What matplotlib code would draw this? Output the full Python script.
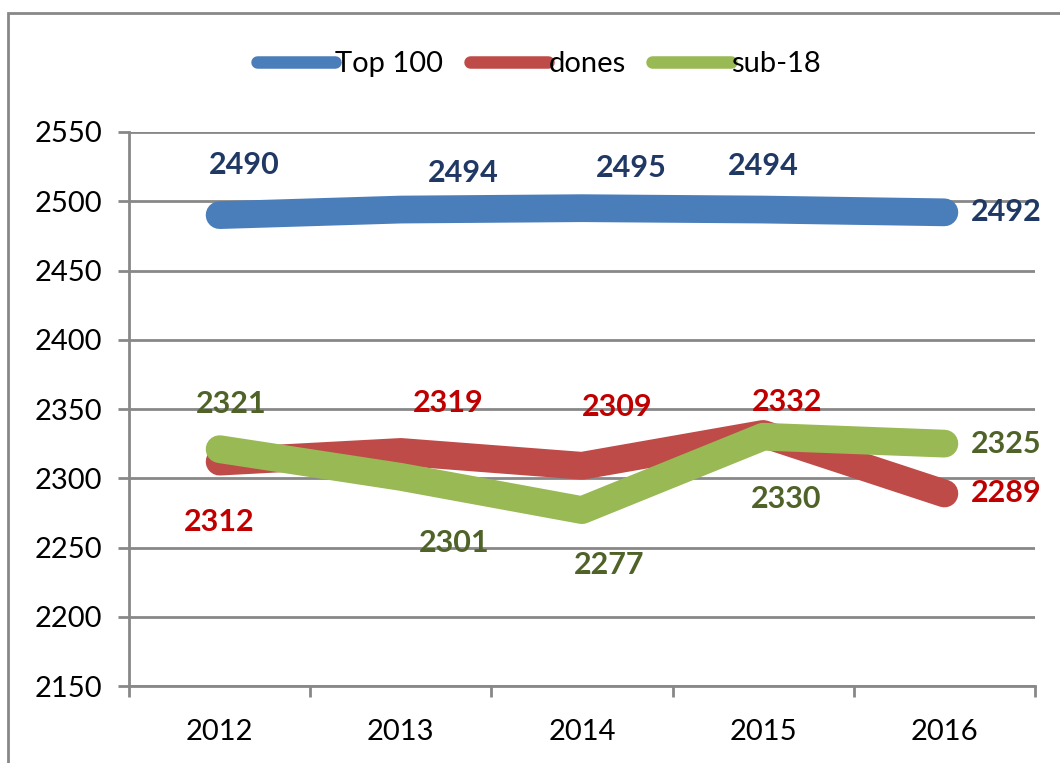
import matplotlib
matplotlib.use("Agg")
import matplotlib.pyplot as plt
from matplotlib.patches import Rectangle

plt.rcParams['font.family'] = ['Lato', 'DejaVu Sans']

years = ["2012", "2013", "2014", "2015", "2016"]
top100 = [2490, 2494, 2495, 2494, 2492]
dones = [2312, 2319, 2309, 2332, 2289]
sub18 = [2321, 2301, 2277, 2330, 2325]

# label offsets in pixels (dx, dy up)
top_off = [(25, 50), (63, 37), (49, 40), (0, 44), (62, 0)]
dones_off = [(0, -60), (47, 49), (35, 59), (24, 32), (62, 0)]
sub_off = [(12, 45), (53, -66), (27, -55), (23, -62), (62, 0)]

series = [
    ("Top 100", top100, "#4A7EBB", "#1F3864", top_off),
    ("dones", dones, "#BE4B48", "#C00000", dones_off),
    ("sub-18", sub18, "#98B954", "#4F6228", sub_off),
]

fig = plt.figure(figsize=(10.6, 7.63), dpi=100)
ax = fig.add_axes([0.1217, 0.1009, 0.8547, 0.7261])

x = list(range(len(years)))
for name, vals, col, lcol, offs in series:
    ax.plot(x, vals, color=col, lw=20, solid_capstyle='round',
            solid_joinstyle='round', label=name, zorder=3)
    for xi, v, (dx, dy) in zip(x, vals, offs):
        ax.annotate(str(v), (xi, v), xytext=(dx * 0.72, dy * 0.72),
                    textcoords='offset points', ha='center', va='center',
                    fontsize=22, fontweight='bold', color=lcol, zorder=4)

ax.set_xlim(-0.5, 4.5)
ax.set_ylim(2150, 2550)
ax.set_yticks(range(2150, 2551, 50))
ax.set_xticks(x)
ax.set_xticklabels(years)
ax.set_xticks([i - 0.5 for i in range(6)], minor=True)
ax.tick_params(axis='x', which='major', length=0, pad=24, labelsize=21)
ax.tick_params(axis='x', which='minor', length=8, width=2, color='#888888')
ax.tick_params(axis='y', length=8, width=2, color='#888888', pad=11, labelsize=21)
ax.grid(axis='y', color='#888888', lw=2, zorder=0)
for s in ['top', 'right']:
    ax.spines[s].set_visible(False)
for s in ['left', 'bottom']:
    ax.spines[s].set_color('#888888')
    ax.spines[s].set_linewidth(2)

leg = fig.legend(loc='center', bbox_to_anchor=(0.508, 0.916), ncol=3,
                 frameon=False, fontsize=21, handlelength=2.7,
                 handletextpad=0.0, columnspacing=0.9)
for ln in leg.get_lines():
    ln.set_linewidth(9)

fig.patches.append(Rectangle((0.0075, -0.05), 1.05, 1.033,
                             transform=fig.transFigure, fill=False,
                             edgecolor='#888888', lw=2))

fig.savefig("out.png", dpi=100)
